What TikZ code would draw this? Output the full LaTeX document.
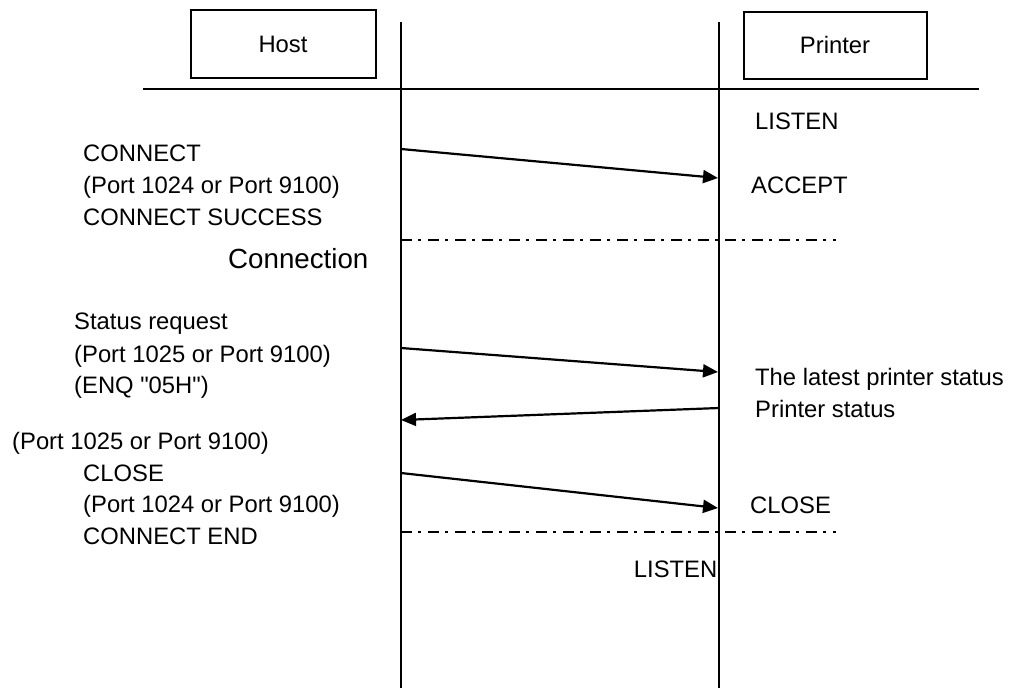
\documentclass[tikz,border=0pt]{standalone}
\usepackage{fontspec}
\setmainfont{Liberation Sans}[Ligatures=TeXOff]
\usetikzlibrary{arrows.meta}
\begin{document}
\begin{tikzpicture}[x=1pt,y=-1pt,
  lbl/.style={anchor=base west,inner sep=0pt,font=\fontsize{23.8}{28}\selectfont},
  boxlbl/.style={draw,line width=1.6pt,inner sep=0pt,font=\fontsize{23.8}{28}\selectfont},
  life/.style={line width=1.8pt},
  msg/.style={line width=2.2pt,-{Triangle[length=15pt,width=13pt]}},
  phase/.style={line width=2.2pt,dash pattern=on 11pt off 6pt on 3pt off 7pt}]
\useasboundingbox (0,0) rectangle (1010,689);
% boxes
\node[boxlbl,minimum width=185pt,minimum height=68pt] (host) at (283.5,44) {};
\node[boxlbl,minimum width=183pt,minimum height=67pt] (printer) at (835.5,45.5) {};
\node[lbl,anchor=base] (hostt) at (283,52) {Host};
\node[lbl,anchor=base] (printert) at (835,53) {Printer};
% lifelines and header rule
\coordinate (htop) at (401,22);
\coordinate (hbot) at (401,688);
\coordinate (ptop) at (719,22);
\coordinate (pbot) at (719,688);
\coordinate (rl) at (143,89);
\coordinate (rr) at (979,89);
\draw[life] (htop) -- (hbot);
\draw[life] (ptop) -- (pbot);
\draw[life] (rl) -- (rr);
% messages
\coordinate (a1s) at (401,149);
\coordinate (a1e) at (718,178);
\coordinate (a2s) at (401,348);
\coordinate (a2e) at (718,372);
\coordinate (a3s) at (719,408);
\coordinate (a3e) at (401,420);
\coordinate (a4s) at (401,473);
\coordinate (a4e) at (718,508);
\draw[msg] (a1s) -- (a1e);
\draw[msg] (a2s) -- (a2e);
\draw[msg] (a3s) -- (a3e);
\draw[msg] (a4s) -- (a4e);
% phase separators
\coordinate (d1s) at (401,240);
\coordinate (d1e) at (836,240);
\coordinate (d2s) at (401,532);
\coordinate (d2e) at (836,532);
\draw[phase] (d1s) -- (d1e);
\draw[phase] (d2s) -- (d2e);
% left texts
\node[lbl] (t1) at (83,161) {CONNECT};
\node[lbl] (t2) at (83,193) {(Port 1024 or Port 9100)};
\node[lbl] (t3) at (83,225) {CONNECT SUCCESS};
\node[lbl,font=\fontsize{27.7}{32}\selectfont] (t4) at (228,268) {Connection};
\node[lbl] (t5) at (74,329) {Status request};
\node[lbl] (t6) at (74,362) {(Port 1025 or Port 9100)};
\node[lbl] (t7) at (74,393) {(ENQ "05H")};
\node[lbl] (t8) at (12,449) {(Port 1025 or Port 9100)};
\node[lbl] (t9) at (83,481) {CLOSE};
\node[lbl] (t10) at (83,512) {(Port 1024 or Port 9100)};
\node[lbl] (t11) at (83,544) {CONNECT END};
% right texts
\node[lbl] (r1) at (755,129) {LISTEN};
\node[lbl] (r2) at (751,193) {ACCEPT};
\node[lbl] (r3) at (755,385) {The latest printer status};
\node[lbl] (r4) at (755,417) {Printer status};
\node[lbl] (r5) at (750,513) {CLOSE};
\node[lbl,anchor=base east] (r6) at (717.5,577) {LISTEN};
\end{tikzpicture}
\end{document}
